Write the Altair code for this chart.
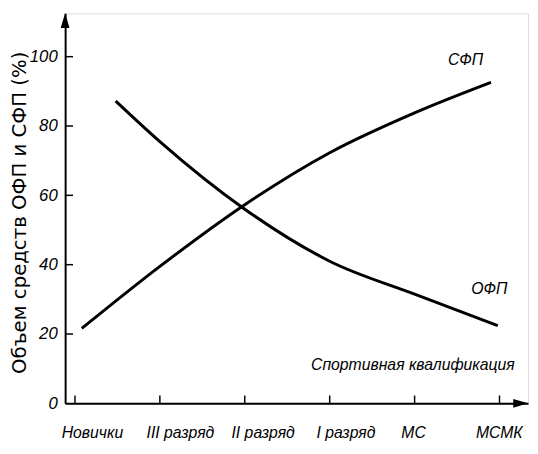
import altair as alt
import pandas as pd

# ---- data ----
categories = ["Новички", "III разряд", "II разряд", "I разряд", "МС", "МСМК"]
sfp_x = [0.08, 1.0, 2.0, 3.0, 4.0, 4.9]
sfp_y = [21.6, 39.5, 57.3, 72.3, 83.8, 92.6]
ofp_x = [0.48, 1.0, 2.0, 3.0, 4.0, 4.98]
ofp_y = [87.2, 75.5, 56.0, 41.0, 31.5, 22.4]
y_ticks = [0, 20, 40, 60, 80, 100]

# ---- layout constants ----
X_MIN, X_MAX = -0.116, 5.336
Y_MIN, Y_MAX = 0, 112.5
W, H = 470, 396
FONT = "Liberation Sans Narrow, Liberation Sans, Arial Narrow, sans-serif"
TICK_PX = 8
x_per_px = (X_MAX - X_MIN) / W
y_per_px = (Y_MAX - Y_MIN) / H
last = len(categories) - 1

xs = alt.Scale(domain=[X_MIN, X_MAX], nice=False, zero=False)
ys = alt.Scale(domain=[Y_MIN, Y_MAX], nice=False, zero=False)

lines_df = pd.DataFrame(
    {"x": sfp_x + ofp_x, "y": sfp_y + ofp_y,
     "s": ["СФП"] * len(sfp_x) + ["ОФП"] * len(ofp_x)}
)

label_expr = "[" + ",".join(f"'{c}'" for c in categories) + "][datum.value]"

base_axes = alt.Chart(pd.DataFrame({"x": [X_MIN], "y": [Y_MIN]})).mark_point(opacity=0).encode(
    x=alt.X("x:Q", scale=xs, axis=alt.Axis(
        values=list(range(len(categories))), labelExpr=label_expr, ticks=False, tickSize=0,
        domainColor="black", domainWidth=2, grid=False, title=None,
        labelFont=FONT, labelFontStyle="italic", labelFontSize=16, labelColor="black",
        labelPadding=22,
        labelAlign={"condition": {"test": f"datum.value == {last}", "value": "right"}, "value": "left"},
        labelOffset={"condition": {"test": f"datum.value == {last}", "value": 23}, "value": -14},
        labelBound=False, labelOverlap=False, labelFlush=False)),
    y=alt.Y("y:Q", scale=ys, axis=alt.Axis(
        values=y_ticks, ticks=False, tickSize=0, domainColor="black", domainWidth=2, grid=False,
        labelFont=FONT, labelFontStyle="italic", labelFontSize=17, labelColor="black",
        labelPadding=8,
        title="Объем средств ОФП и СФП (%)", titleFont="DejaVu Sans", titleFontSize=20,
        titleFontWeight="normal", titleColor="black", titleAngle=270,
        titleX=-46, titleY=202, titleAlign="center", titleBaseline="middle")),
)

lines = alt.Chart(lines_df).mark_line(color="black", strokeWidth=3, interpolate="monotone").encode(
    x=alt.X("x:Q", scale=xs), y=alt.Y("y:Q", scale=ys), detail="s:N"
)

yt_df = pd.DataFrame({"y": y_ticks[1:], "x": [X_MIN] * 5, "x2": [X_MIN + TICK_PX * x_per_px] * 5})
ytick = alt.Chart(yt_df).mark_rule(color="black", strokeWidth=1.5).encode(
    x=alt.X("x:Q", scale=xs), x2="x2", y=alt.Y("y:Q", scale=ys))

xt_df = pd.DataFrame({"x": list(range(len(categories))), "y": [0] * len(categories),
                      "y2": [TICK_PX * y_per_px] * len(categories)})
xtick = alt.Chart(xt_df).mark_rule(color="black", strokeWidth=1.5).encode(
    x=alt.X("x:Q", scale=xs), y=alt.Y("y:Q", scale=ys), y2="y2")

arrow_df = pd.DataFrame({"x": [X_MIN], "y": [Y_MAX]})
arrow_up = alt.Chart(arrow_df).mark_point(
    shape="M0,0L0.6,2L-0.6,2Z", size=225, filled=True, color="black", opacity=1
).encode(x=alt.X("x:Q", scale=xs), y=alt.Y("y:Q", scale=ys))
arrow_right = alt.Chart(pd.DataFrame({"x": [X_MAX], "y": [Y_MIN]})).mark_point(
    shape="M0,0L-2,-0.6L-2,0.6Z", size=225, filled=True, color="black", opacity=1
).encode(x=alt.X("x:Q", scale=xs), y=alt.Y("y:Q", scale=ys))

ann_df = pd.DataFrame({"x": [4.6, 4.88, 3.98], "y": [98.9, 33.0, 11.1],
                       "t": ["СФП", "ОФП", "Спортивная квалификация"]})
ann = alt.Chart(ann_df).mark_text(font=FONT, fontStyle="italic", fontSize=16, color="black",
                                  baseline="middle", align="center").encode(
    x=alt.X("x:Q", scale=xs), y=alt.Y("y:Q", scale=ys), text="t:N")

chart = alt.layer(base_axes, lines, ytick, xtick, arrow_up, arrow_right, ann).properties(
    width=W, height=H,
    autosize=alt.AutoSizeParams(type="none"),
    padding={"left": 58, "top": 2, "right": 2, "bottom": 48},
).configure_view(stroke=None).configure(background="white")

chart.save("out.html", embed_options={"renderer": "svg", "actions": False})
